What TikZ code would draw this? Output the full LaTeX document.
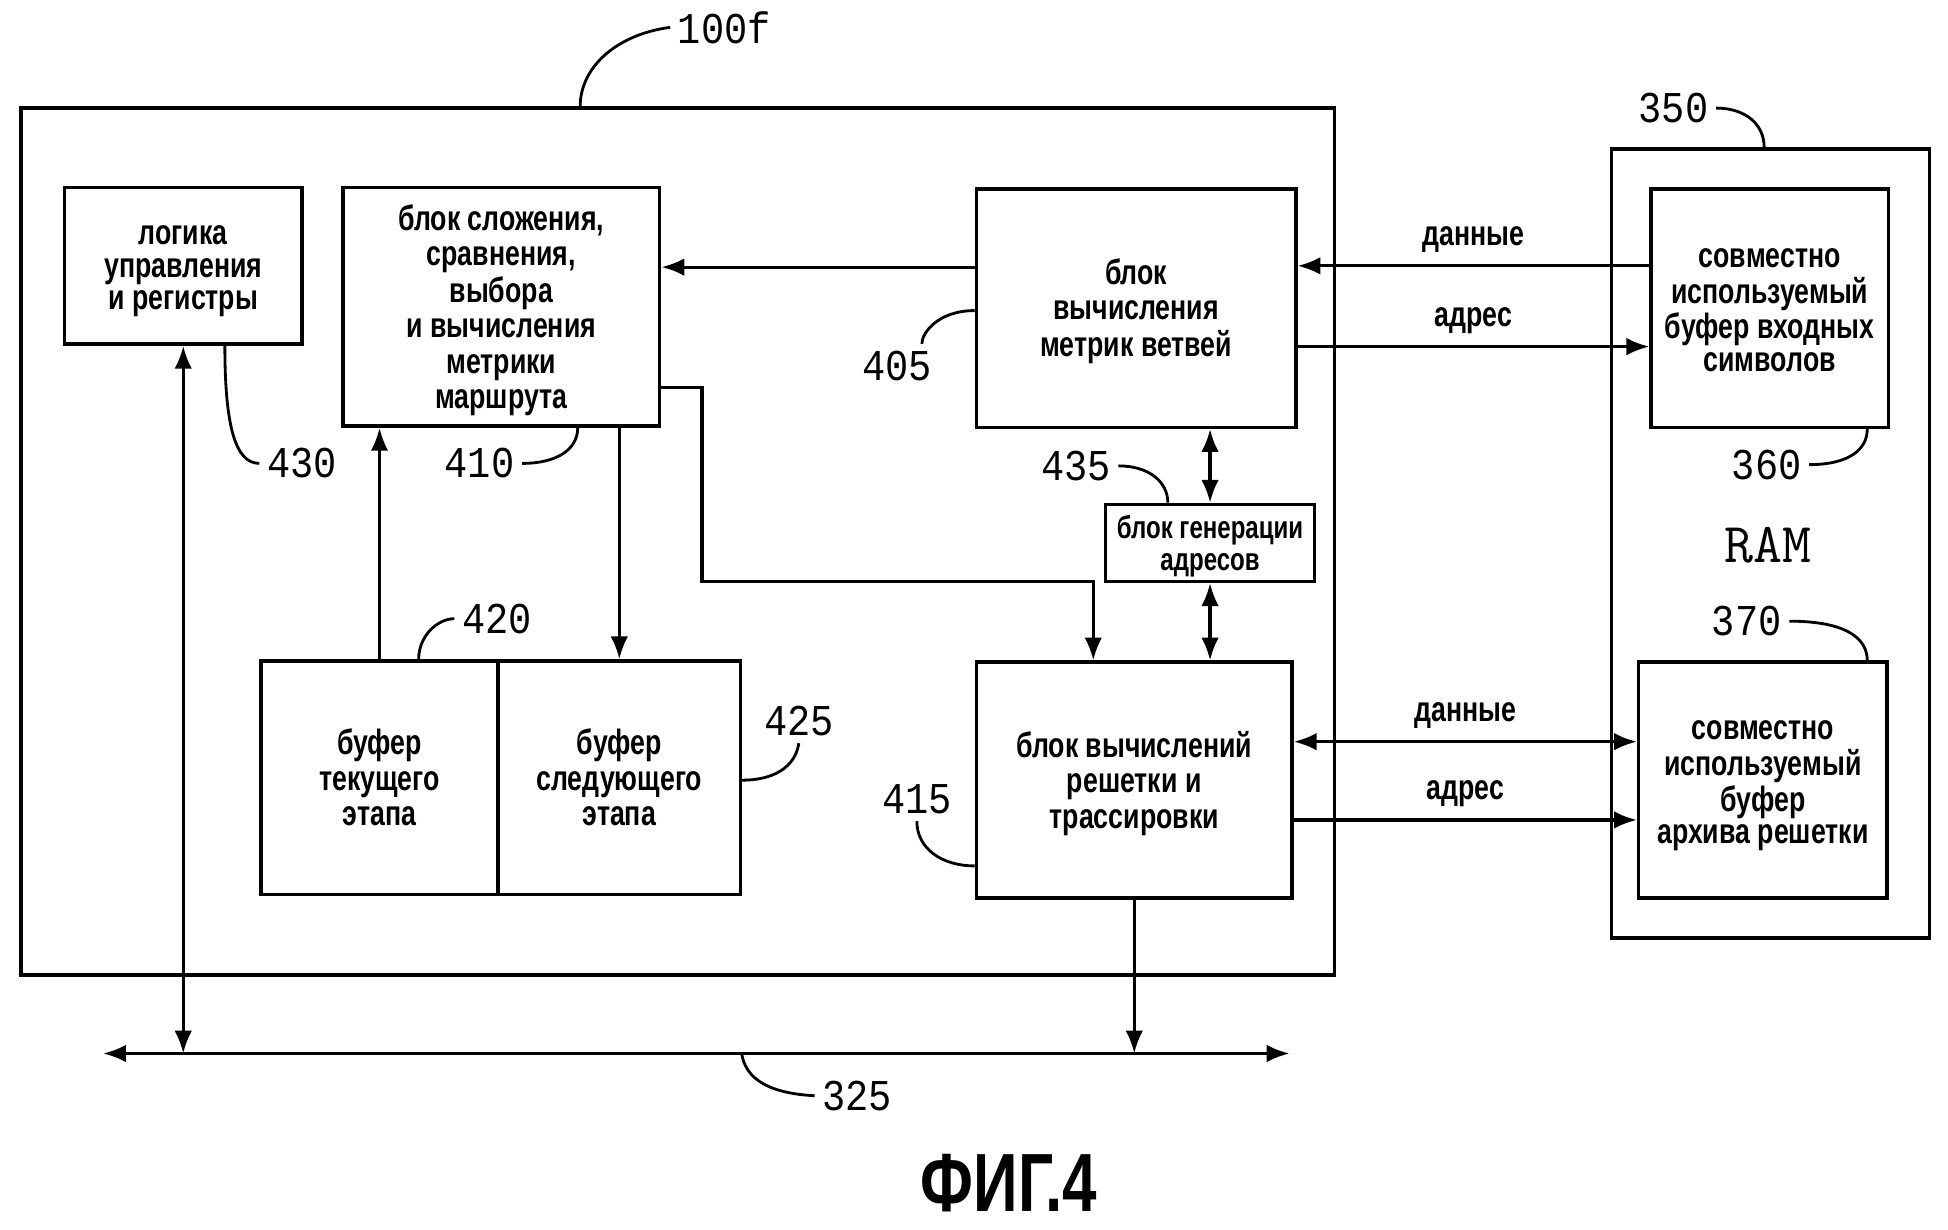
\documentclass[tikz,border=0pt]{standalone}
\usepackage{fontspec}
\setmainfont{Liberation Sans}[FakeStretch=0.76]
\newfontfamily\numfont{Liberation Mono}[FakeStretch=0.88]
\newfontfamily\figfont{Liberation Sans}[FakeStretch=0.75]
\usetikzlibrary{arrows.meta,fit}

\newcommand{\px}{0.012423cm}
\newcommand{\stk}[1]{\raisebox{\depth}[\dimexpr\height+\depth+2.8pt\relax][0pt]{\begin{tabular}{@{}c@{}}#1\end{tabular}}}

\begin{document}
\begin{tikzpicture}[x=\px,y=-\px,
    frm/.style={draw,line width=1pt,inner sep=0pt},
    blk/.style={draw,line width=1pt,inner sep=0pt,font=\fontsize{10}{10.1}\selectfont\bfseries},
    tight/.style={font=\fontsize{10}{9.2}\selectfont\bfseries},
    num/.style={font=\numfont\fontsize{12.5}{12.5}\selectfont,inner sep=2pt},
    lbl/.style={font=\fontsize{10}{10}\selectfont\bfseries},
    arr/.style={line width=0.9pt,-{Latex[length=6.5pt,width=5pt]}},
    dbl/.style={line width=0.9pt,{Latex[length=6.5pt,width=5pt]}-{Latex[length=6.5pt,width=5pt]}},
    ldr/.style={line width=0.8pt}]

    \useasboundingbox (0,0) rectangle (1568,990);

    % frames
    \node[frm,fit={(17,87) (1074,785)}] (b100f) {};
    \node[frm,fit={(1297,120) (1553,755)}] (b350) {};

    % blocks
    \node[blk,tight,minimum width=191*\px,minimum height=126*\px] (b430) at (147.5,214) {\stk{логика\\управления\\и регистры}};
    \node[blk,minimum width=255*\px,minimum height=192*\px] (b410) at (403.5,247) {\stk{блок сложения,\\сравнения,\\выбора\\и вычисления\\метрики\\маршрута}};
    \node[blk,minimum width=257*\px,minimum height=192*\px] (b405) at (914.5,248) {\stk{блок\\вычисления\\метрик ветвей}};
    \node[blk,minimum width=168*\px,minimum height=62*\px,font=\fontsize{9}{9.3}\selectfont\bfseries] (b435) at (974,437) {\stk{блок генерации\\адресов}};
    \node[blk,minimum width=254*\px,minimum height=190*\px] (b415) at (913,628) {\stk{блок вычислений\\решетки и\\трассировки}};
    \node[blk,minimum width=191*\px,minimum height=188*\px] (b420) at (305.5,626) {\stk{буфер\\текущего\\этапа}};
    \node[blk,minimum width=195*\px,minimum height=188*\px] (b425) at (498.5,626) {\stk{буфер\\следующего\\этапа}};
    \node[blk,tight,minimum width=191*\px,minimum height=192*\px] (b360) at (1424.5,248) {\stk{совместно\\используемый\\буфер входных\\символов}};
    \node[blk,tight,minimum width=200*\px,minimum height=190*\px] (b370) at (1419,628) {\stk{совместно\\используемый\\буфер\\архива решетки}};
    \node[font=\ttfamily\fontsize{16}{16}\selectfont] (tram) at (1423,439) {RAM};

    % bus
    \coordinate (busL) at (83,848);
    \coordinate (busR) at (1038,848);
    \draw[dbl] (busL) -- (busR);

    % connections
    \draw[arr] (b405.west |- 0,215) -- (b410.east |- 0,215);
    \draw[arr] (b360.west |- 0,214) -- node[lbl,above] {данные} (b405.east |- 0,214);
    \draw[arr] (b405.east |- 0,279) -- node[lbl,above] {адрес} (b360.west |- 0,279);
    \draw[dbl] (b435.north |- b405.south) -- (b435.north);
    \draw[dbl] (b435.south) -- (b435.south |- b415.north);
    \draw[arr] (b410.east |- 0,312) -| (565,468) -| (b415.north -| 880,0);
    \draw[arr] (b410.south -| b425.north) -- (b425.north);
    \draw[arr] (b420.north) -- (b420.north |- b410.south);
    \draw[dbl] (b415.east |- 0,597) -- node[lbl,above] {данные} (b370.west |- 0,597);
    \draw[arr] (b415.east |- 0,660) -- node[lbl,above] {адрес} (b370.west |- 0,660);
    \draw[dbl] (b430.south) -- (b430.south |- busL);
    \draw[arr] (b415.south) -- (b415.south |- busL);

    % reference numbers
    \node[num] (n100f) at (583,22) {100f};
    \node[num] (n430) at (243,373) {430};
    \node[num] (n410) at (386,373) {410};
    \node[num] (n405) at (722,295) {405};
    \node[num] (n435) at (866,375) {435};
    \node[num] (n420) at (400,498) {420};
    \node[num] (n425) at (643,580) {425};
    \node[num] (n415) at (738,643) {415};
    \node[num] (n325) at (690,882) {325};
    \node[num] (n350) at (1347,87) {350};
    \node[num] (n360) at (1422,374) {360};
    \node[num] (n370) at (1406,500) {370};

    \draw[ldr] (n100f.west) .. controls (495,28) and (467,55) .. (b100f.north -| 467,0);
    \draw[ldr] (b430.south -| 181,0) .. controls (181,345) and (190,373) .. (n430.west);
    \draw[ldr] (n410.east) .. controls (448,373) and (465,362) .. (b410.south -| 465,0);
    \draw[ldr] (b405.west |- 0,250) .. controls (755,250) and (742,268) .. (n405.north -| 742,0);
    \draw[ldr] (n435.east) .. controls (925,375) and (940,388) .. (b435.north -| 940,0);
    \draw[ldr] (n420.west) .. controls (352,498) and (337,512) .. (b420.north -| 337,0);
    \draw[ldr] (n425.south) .. controls (640,618) and (622,628) .. (b425.east |- 0,628);
    \draw[ldr] (n415.south) .. controls (738,683) and (758,697) .. (b415.west |- 0,697);
    \draw[ldr] (busL -| 597,0) .. controls (600,868) and (618,880) .. (n325.west);
    \draw[ldr] (n350.east) .. controls (1405,87) and (1420,100) .. (b350.north -| 1420,0);
    \draw[ldr] (n360.east) .. controls (1488,374) and (1503,362) .. (b360.south -| 1503,0);
    \draw[ldr] (n370.east) .. controls (1488,500) and (1503,515) .. (b370.north -| 1503,0);

    % caption
    \node[font=\figfont\fontsize{23.5}{23.5}\selectfont\bfseries] (tfig) at (812,952) {ФИГ.4};
\end{tikzpicture}
\end{document}
